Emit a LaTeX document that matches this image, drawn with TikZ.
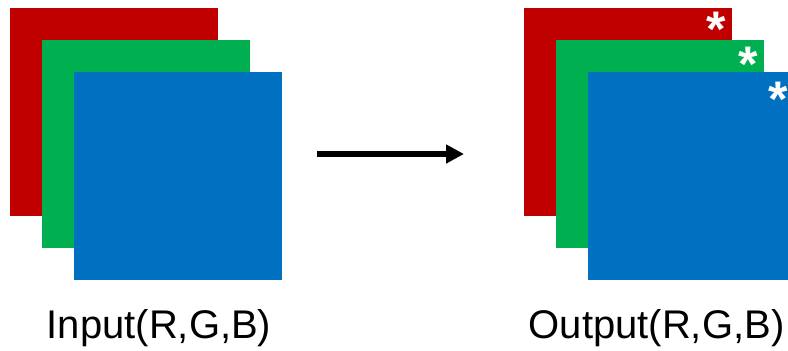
\documentclass[tikz,border=0pt]{standalone}
\usepackage{fontspec}
\setmainfont{Liberation Sans}
\usetikzlibrary{arrows.meta}
\definecolor{cred}{HTML}{C00000}
\definecolor{cgreen}{HTML}{00B050}
\definecolor{cblue}{HTML}{0070C0}
\tikzset{
  chan/.style={fill=#1, draw=none, minimum width=208pt, minimum height=208pt, inner sep=0pt, anchor=north west},
  star/.style={text=white, font=\fontsize{50}{50}\selectfont\bfseries, inner sep=0pt, anchor=north},
  lbl/.style={font=\fontsize{40}{48}\selectfont, inner sep=0pt, anchor=base},
  bigarrow/.style={line width=5.5pt, -{Triangle[length=18pt,width=18pt]}}
}
\begin{document}
\begin{tikzpicture}[x=1pt,y=-1pt]
\useasboundingbox (0,0) rectangle (788,351);
\clip (0,0) rectangle (788,351);
% left stack
\node[chan=cred] (lr) at (10,8) {};
\node[chan=cgreen] (lg) at (42,40) {};
\node[chan=cblue] (lb) at (74,72) {};
% right stack
\node[chan=cred] (rr) at (524,8) {};
\node[chan=cgreen] (rg) at (556,40) {};
\node[chan=cblue] (rb) at (588,72) {};
\node[star] (sr) at (716,12) {*};
\node[star] (sg) at (748,47) {*};
\node[star] (sb) at (778,82) {*};
% arrow
\coordinate (a1) at (317,154);
\coordinate (a2) at (464,154);
\draw[bigarrow] (a1) -- (a2);
% labels
\node[lbl] (lin) at (159,338) {Input(R,G,B)};
\node[lbl] (lout) at (656.5,338) {Output(R,G,B)};
\end{tikzpicture}
\end{document}
